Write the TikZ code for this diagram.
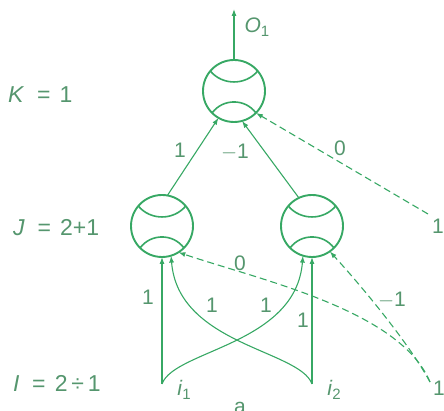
\documentclass[tikz,border=0pt]{standalone}
\usepackage{fontspec}
\setmainfont{Liberation Sans}
\usetikzlibrary{arrows.meta,calc}
\definecolor{lg}{RGB}{55,168,100}
\definecolor{tg}{RGB}{85,150,110}
\newcommand\subsc[1]{\raisebox{-0.4ex}{\fontsize{15}{15}\selectfont #1}}
\begin{document}
\begin{tikzpicture}[x=1pt,y=-1pt,
  neuron/.style={circle,draw=lg,line width=1.9pt,minimum size=62pt,inner sep=0pt,outer sep=0pt},
  seam/.style={draw=lg,line width=1.6pt},
  conn/.style={draw=lg,line width=1.1pt,-{Latex[length=7pt,width=5pt]}},
  dconn/.style={conn,dash pattern=on 7pt off 4pt},
  lab/.style={text=tg,font=\fontsize{21}{24}\selectfont,inner sep=0pt},
  lev/.style={text=tg,font=\fontsize{23}{26}\selectfont,inner sep=0pt,anchor=west}]
\useasboundingbox (0,0) rectangle (444,411);
% neurons
\node[neuron] (out) at (234,91) {};
\node[neuron] (h1) at (162,226) {};
\node[neuron] (h2) at (312,226) {};
\foreach \n in {out,h1,h2}{
  \draw[seam] ($(\n.center)+(-23.7,-19.9)$) .. controls ($(\n.center)+(-11.3,-5.4)$) and ($(\n.center)+(11.3,-5.4)$) .. ($(\n.center)+(23.7,-19.9)$);
  \draw[seam] ($(\n.center)+(-21.9,21.9)$) .. controls ($(\n.center)+(-11.0,7.3)$) and ($(\n.center)+(11.0,7.3)$) .. ($(\n.center)+(21.9,21.9)$);
}
% free ends
\coordinate (o1) at (234,9);
\coordinate (x1) at (162,384);
\coordinate (x2) at (312,384);
\coordinate (b1) at (428,214);
\coordinate (b2) at (430,382);
% connectors
\draw[conn] (out.north) -- (o1);
\draw[conn] (h1.80) -- (out.-120);
\draw[conn] (h2.115) -- (out.-75);
\draw[dconn] (b1) -- (out.-45);
\draw[conn] (x1) -- (h1.south);
\draw[conn] (x2) -- (h2.south);
\draw[conn] (x1) .. controls (174,350) and (296,345) .. (h2.-107);
\draw[conn] (x2) .. controls (300,350) and (178,345) .. (h1.-73);
\draw[dconn] (b2) .. controls (400,310) and (260,280) .. (h1.-58);
\draw[dconn] (b2) .. controls (410,345) and (365,290) .. (h2.-55);
% weight labels
\node[lab] (w1) at (180,150) {1};
\node[lab] (w2) at (235,152) {$-$1};
\node[lab] (w3) at (340,148) {0};
\node[lab] (bt) at (438,226) {1};
\node[lab] (w4) at (148,297) {1};
\node[lab] (w5) at (212,305) {1};
\node[lab] (w6) at (266,305) {1};
\node[lab] (w7) at (303,320) {1};
\node[lab] (w8) at (240,263) {0};
\node[lab] (w9) at (392,300) {$-$1};
\node[lab] (bb) at (439,388) {1};
% variable labels
\node[lab] (i1t) at (184,390) {\textit{i}\subsc{1}};
\node[lab] (i2t) at (334,390) {\textit{i}\subsc{2}};
\node[lab] (o1t) at (257,27) {\textit{O}\subsc{1}};
\node[lev] (kl) at (8,95) {\textit{K}\hspace{0.55em}=\hspace{0.4em}1};
\node[lev] (jl) at (13,228) {\textit{J}\hspace{0.55em}=\hspace{0.4em}2+1};
\node[lev] (il) at (13,383) {\textit{I}\hspace{0.55em}=\hspace{0.4em}2\,÷\,1};
\node[lab,anchor=base] (al) at (240,413) {a};
\end{tikzpicture}
\end{document}
